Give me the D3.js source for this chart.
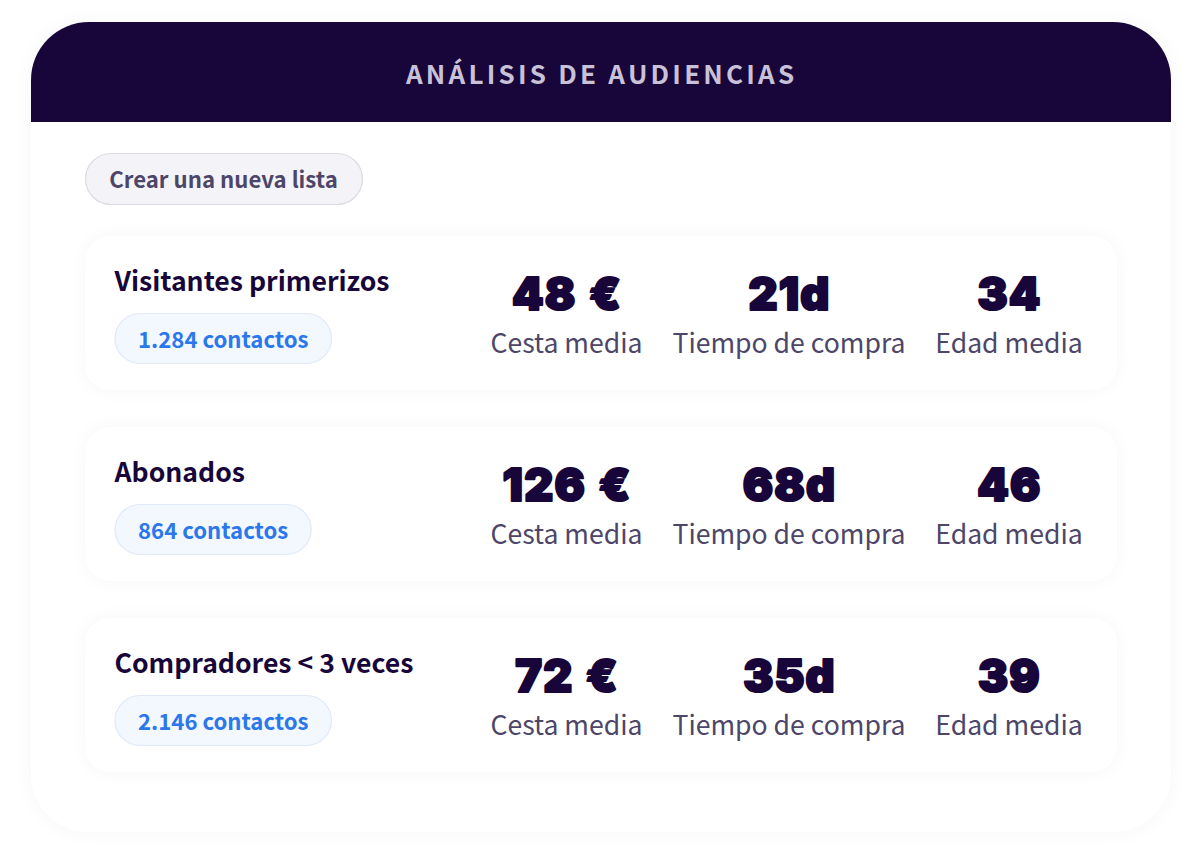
<!DOCTYPE html>
<html>
<head>
<meta charset="utf-8">
<script src="https://cdn.jsdelivr.net/npm/d3@7"></script>
<style>
  html, body { margin: 0; padding: 0; background: #fff; }
  svg { display: block; }
  text { font-family: "Noto Sans CJK SC", "Noto Sans", sans-serif; }
</style>
</head>
<body>
<svg id="chart" width="1200" height="853"></svg>
<script>
var title = "ANÁLISIS DE AUDIENCIAS";
var buttonLabel = "Crear una nueva lista";
var audiences = ["Visitantes primerizos", "Abonados", "Compradores < 3 veces"];
var contacts = ["1.284 contactos", "864 contactos", "2.146 contactos"];
var basket = ["48 €", "126 €", "72 €"];
var buyTime = ["21d", "68d", "35d"];
var age = ["34", "46", "39"];
var metricLabels = ["Cesta media", "Tiempo de compra", "Edad media"];

var dark = "#18063a";
var grey = "#4d4668";
var blue = "#2b77ec";

var svg = d3.select("#chart");
var defs = svg.append("defs");

function shadow(id, blur, opacity) {
  var f = defs.append("filter").attr("id", id)
    .attr("x", "-10%").attr("y", "-20%").attr("width", "120%").attr("height", "140%");
  f.append("feDropShadow").attr("dx", 0).attr("dy", 0)
    .attr("stdDeviation", blur).attr("flood-color", "#18063a").attr("flood-opacity", opacity);
}
shadow("outer", 9, 0.035);
shadow("inner", 8, 0.035);

// outer card and header
svg.append("rect").attr("x", 31).attr("y", 22).attr("width", 1140).attr("height", 810)
  .attr("rx", 58).attr("fill", "#fff").attr("filter", "url(#outer)");

svg.append("path").attr("fill", dark)
  .attr("d", "M31,122 V80 A58,58 0 0 1 89,22 H1113 A58,58 0 0 1 1171,80 V122 Z");

svg.append("text").attr("x", 601.7).attr("y", 84).attr("text-anchor", "middle")
  .attr("font-size", 26).attr("font-weight", 700).attr("letter-spacing", 3.22)
  .attr("fill", "#c9c1d8").text(title);

// button
svg.append("rect").attr("x", 85.5).attr("y", 153.5).attr("width", 277).attr("height", 51)
  .attr("rx", 25.5).attr("fill", "#f4f3f7").attr("stroke", "#dcdae2").attr("stroke-width", 1.2);
svg.append("text").attr("x", 223.5).attr("y", 187.5).attr("text-anchor", "middle")
  .attr("font-size", 22.2).attr("font-weight", 700).attr("fill", grey).text(buttonLabel);

// one row per audience
var rowY = d3.scalePoint().domain(d3.range(audiences.length)).range([236, 618]);
var metricX = d3.scaleOrdinal().domain([0, 1, 2]).range([566.5, 789, 1009]);

var rows = svg.selectAll("g.row").data(audiences).enter().append("g")
  .attr("class", "row")
  .attr("transform", function(d, i) { return "translate(0," + rowY(i) + ")"; });

rows.append("rect").attr("x", 85).attr("y", 0).attr("width", 1032).attr("height", 154)
  .attr("rx", 26).attr("fill", "#fff").attr("filter", "url(#inner)");

rows.append("text").attr("x", 114.5).attr("y", 55).attr("font-size", 26.6).attr("font-weight", 700)
  .attr("fill", dark).text(function(d) { return d; });

var pill = rows.append("g");
var pillText = pill.append("text").attr("y", 111.5).attr("font-size", 22.15).attr("font-weight", 700)
  .attr("fill", blue).attr("text-anchor", "middle").text(function(d, i) { return contacts[i]; });

pill.insert("rect", "text").attr("x", 115).attr("y", 77.5).attr("height", 50).attr("rx", 25)
  .attr("fill", "#f3f7fe").attr("stroke", "#e0e9f8").attr("stroke-width", 1.2)
  .attr("width", function(d, i) { return pillText.nodes()[i].getComputedTextLength() + 46; });
pillText.attr("x", function(d, i) { return 115 + (this.getComputedTextLength() + 46) / 2; });

[basket, buyTime, age].forEach(function(values, m) {
  rows.append("text").attr("x", metricX(m) + 0.5).attr("y", 74).attr("text-anchor", "middle")
    .attr("font-size", 45).attr("font-weight", 900)
    .attr("letter-spacing", 1.2).attr("word-spacing", 2.5)
    .attr("stroke", dark).attr("stroke-width", 2.2).attr("stroke-linejoin", "round")
    .style("font-family", "Inter, Lato, sans-serif")
    .attr("fill", dark).text(function(d, i) { return values[i]; });
  rows.append("text").attr("x", metricX(m)).attr("y", 117).attr("text-anchor", "middle")
    .attr("font-size", 26.6).attr("font-weight", 400).attr("fill", grey).text(metricLabels[m]);
});
</script>
</body>
</html>
